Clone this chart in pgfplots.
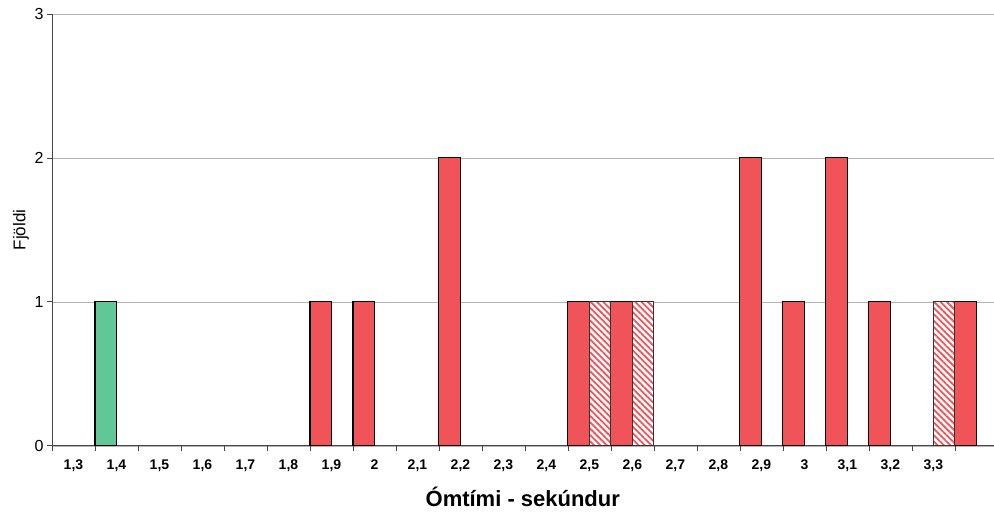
\documentclass[border=0pt]{standalone}
\usepackage{fontspec}
\setmainfont{Liberation Sans}
\usepackage{pgfplots}
\pgfplotsset{compat=1.18}
\usetikzlibrary{patterns.meta}
\definecolor{barred}{RGB}{240,84,88}
\definecolor{bargreen}{RGB}{96,200,150}
\definecolor{gridgray}{RGB}{180,180,180}
\definecolor{axgray}{RGB}{70,70,70}
\begin{document}
\begin{tikzpicture}
\begin{axis}[
  scale only axis, width=942pt, height=432pt,
  xmin=-0.5, xmax=21.4, ymin=0, ymax=3,
  axis x line=bottom, axis y line=left,
  axis line style={-, draw=axgray, line width=0.8pt},
  ytick={0,1,2,3},
  ymajorgrids, major grid style={draw=gridgray, line width=0.6pt},
  xtick={-0.5,0.5,1.5,2.5,3.5,4.5,5.5,6.5,7.5,8.5,9.5,10.5,11.5,12.5,13.5,14.5,15.5,16.5,17.5,18.5,19.5,20.5},
  x tick label as interval,
  xticklabels={{1,3},{1,4},{1,5},{1,6},{1,7},{1,8},{1,9},{2},{2,1},{2,2},{2,3},{2,4},{2,5},{2,6},{2,7},{2,8},{2,9},{3},{3,1},{3,2},{3,3}},
  tick align=outside, tick pos=left, major tick length=5pt,
  tick style={draw=axgray, line width=0.8pt},
  /pgf/number format/assume math mode=true,
  xticklabel style={font=\fontsize{14}{14}\selectfont\bfseries, text height=10pt, text depth=3pt, yshift=-5pt},
  yticklabel style={font=\fontsize{16}{16}\selectfont},
  xlabel={Ómtími - sekúndur},
  xlabel style={font=\fontsize{22}{24}\selectfont\bfseries, at={(axis description cs:0.5,0)}, anchor=center, yshift=-51pt},
  ylabel={Fjöldi},
  ylabel style={font=\fontsize{17}{18}\selectfont, at={(axis description cs:-0.033,0.5)}, anchor=center},
]
\addplot[ybar, bar width=0.5, bar shift=-0.25, fill=barred, draw=black, line width=1.1pt]
  coordinates {(6,1) (7,1) (9,2) (12,1) (13,1) (16,2) (17,1) (18,2) (19,1) (21,1)};
\addplot[ybar, bar width=0.5, bar shift=-0.25, fill=bargreen, draw=black, line width=1.1pt]
  coordinates {(1,1)};
\addplot[ybar, bar width=0.5, bar shift=0.25, preaction={fill=white},
  pattern={Lines[angle=-45,distance=4.5pt,line width=1.8pt]}, pattern color=barred,
  draw=black!80, line width=1.1pt]
  coordinates {(12,1) (13,1) (20,1)};
\end{axis}
\path (current axis.south west)+(-52pt,-67pt) rectangle ([yshift=14pt]current axis.north east);
\end{tikzpicture}
\end{document}
